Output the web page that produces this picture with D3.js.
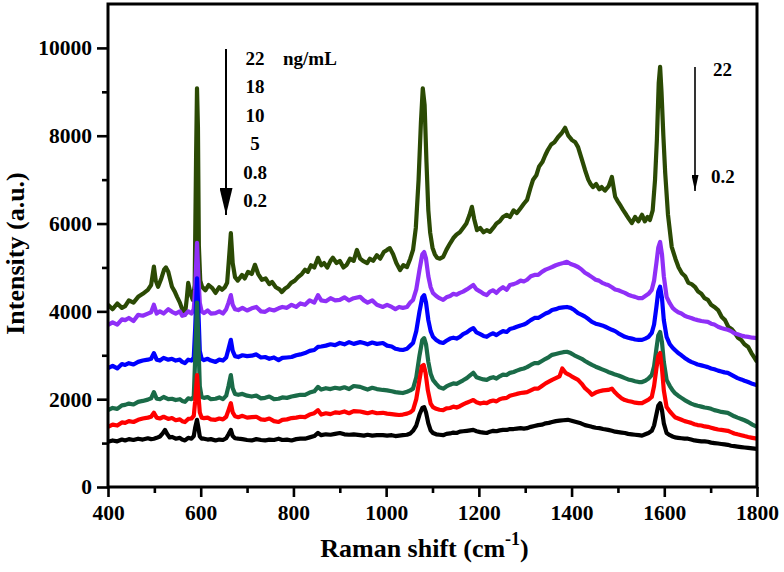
<!DOCTYPE html>
<html><head><meta charset="utf-8">
<script src="https://cdn.jsdelivr.net/npm/d3@7"></script>
<style>
html,body{margin:0;padding:0;background:#fff;}
svg text{font-family:"Liberation Serif","Times New Roman",serif;font-weight:bold;fill:#000;}
</style></head>
<body><svg id="c" width="784" height="572"></svg>
<script>
// ---- data ----
const concentrations = ["22","18","10","5","0.8","0.2"]; // ng/mL
const seriesColors = ["#2b4a04","#8f2ff7","#0000ff","#1a6b48","#ff0000","#000000"];
const xTicksMajor = [400,600,800,1000,1200,1400,1600,1800];
const xTicksMinor = [500,700,900,1100,1300,1500,1700];
const yTicksMajor = [0,2000,4000,6000,8000,10000];
const yTicksMinor = [1000,3000,5000,7000,9000];

const s22 = [[400,4150],[410,4050],[420,4180],[430,4080],[437,4120],[445,4250],[455,4200],[465,4330],[475,4400],[486,4490],[493,4600],[499,5020],[503,4700],[508,4560],[515,4750],[521,4950],[525,5000],[530,4900],[538,4560],[544,4450],[549,4330],[555,4200],[560,4050],[566,3920],[570,4300],[573,4650],[578,4400],[583,4260],[587,4600],[590,7500],[592,9080],[594,8200],[596,5500],[599,4700],[603,4560],[610,4480],[617,4600],[625,4530],[632,4420],[640,4550],[646,4490],[652,4550],[657,4650],[661,5200],[665,5780],[669,5100],[674,4780],[680,4700],[689,4830],[695,4750],[702,4900],[710,4850],[717,5060],[724,4850],[732,4720],[740,4750],[748,4620],[754,4670],[762,4550],[770,4500],[775,4440],[782,4520],[788,4560],[795,4650],[803,4700],[810,4780],[818,4850],[825,4950],[831,4900],[838,5050],[845,5000],[853,5220],[860,5050],[866,5100],[873,5000],[880,5150],[885,5220],[893,5100],[900,5150],[908,5000],[915,5060],[922,5200],[930,5150],[937,5400],[944,5200],[950,5150],[959,5100],[965,5200],[972,5150],[980,5280],[987,5200],[995,5350],[1002,5400],[1008,5440],[1015,5300],[1022,5100],[1030,4940],[1037,5050],[1045,5010],[1052,5200],[1058,5400],[1064,5900],[1070,7000],[1075,8300],[1079,9080],[1083,8700],[1087,7400],[1091,6300],[1095,5790],[1100,5450],[1105,5300],[1110,5220],[1116,5200],[1123,5240],[1130,5400],[1138,5550],[1145,5670],[1152,5750],[1159,5800],[1166,5900],[1173,6000],[1180,6200],[1185,6380],[1190,6100],[1196,5850],[1203,5900],[1210,5800],[1217,5850],[1224,5810],[1231,5900],[1238,6000],[1245,6050],[1252,6150],[1260,6200],[1267,6150],[1275,6300],[1282,6240],[1290,6350],[1297,6450],[1304,6540],[1311,6800],[1317,7000],[1324,7100],[1330,7300],[1337,7400],[1343,7550],[1349,7680],[1356,7800],[1363,7850],[1371,7970],[1378,8050],[1386,8180],[1393,8000],[1401,7900],[1408,7850],[1414,7740],[1421,7500],[1429,7220],[1436,7000],[1441,6900],[1446,6830],[1453,6900],[1460,6780],[1465,6830],[1472,6750],[1480,6850],[1487,7060],[1491,6800],[1494,6610],[1500,6500],[1506,6400],[1511,6310],[1518,6200],[1524,6100],[1530,6010],[1537,6150],[1544,6050],[1552,6200],[1558,6050],[1564,6150],[1569,6080],[1575,6300],[1580,6990],[1584,7900],[1588,9200],[1591,9570],[1594,9000],[1598,8000],[1602,7150],[1608,6200],[1616,5470],[1624,5200],[1631,5000],[1638,4870],[1645,4800],[1652,4650],[1659,4620],[1666,4560],[1673,4450],[1680,4400],[1687,4300],[1694,4260],[1701,4150],[1708,4100],[1716,4030],[1724,3870],[1731,3800],[1738,3650],[1745,3600],[1752,3510],[1759,3400],[1766,3350],[1773,3250],[1781,3190],[1788,3050],[1794,2950],[1800,2850]];

const s18 = [[400,3690],[410,3750],[420,3700],[430,3820],[437,3800],[445,3850],[455,3780],[465,3920],[475,3900],[486,3950],[493,3980],[499,4150],[505,3950],[512,4000],[520,3950],[530,4050],[538,3990],[546,3950],[555,4000],[560,3900],[566,3920],[573,4000],[580,3950],[585,4050],[588,4500],[592,5560],[595,4800],[598,4200],[602,4000],[607,3960],[615,4020],[622,3950],[632,3960],[640,4000],[648,3950],[655,4050],[660,4200],[665,4370],[669,4150],[674,4050],[681,4030],[690,4080],[700,4020],[710,4070],[720,4100],[730,4000],[739,3990],[748,4050],[758,4020],[768,4070],[776,4100],[786,4080],[796,4150],[806,4100],[815,4180],[825,4150],[835,4250],[845,4200],[853,4370],[860,4250],[870,4230],[880,4300],[890,4250],[900,4260],[910,4320],[920,4250],[930,4300],[944,4330],[952,4250],[960,4200],[970,4250],[980,4150],[993,4100],[1002,4150],[1012,4100],[1020,4050],[1028,4100],[1036,4080],[1045,4100],[1052,4200],[1058,4260],[1065,4500],[1072,4950],[1078,5300],[1082,5350],[1086,5200],[1091,4800],[1096,4550],[1101,4420],[1108,4350],[1115,4300],[1123,4260],[1130,4320],[1138,4350],[1145,4400],[1152,4380],[1159,4420],[1166,4450],[1174,4500],[1181,4550],[1188,4600],[1195,4500],[1203,4450],[1210,4400],[1217,4370],[1224,4450],[1231,4480],[1238,4420],[1245,4500],[1252,4550],[1260,4490],[1267,4600],[1275,4620],[1282,4650],[1290,4700],[1297,4680],[1304,4720],[1312,4800],[1320,4830],[1328,4830],[1336,4900],[1344,4950],[1351,4980],[1358,5010],[1366,5050],[1374,5080],[1382,5100],[1390,5130],[1398,5080],[1406,5050],[1414,5010],[1422,4950],[1429,4880],[1437,4830],[1444,4780],[1452,4720],[1459,4700],[1466,4650],[1473,4620],[1479,4600],[1487,4550],[1494,4500],[1501,4480],[1508,4450],[1515,4420],[1522,4380],[1530,4350],[1537,4330],[1545,4300],[1552,4300],[1559,4350],[1566,4400],[1573,4490],[1578,4700],[1583,5100],[1587,5450],[1591,5580],[1595,5300],[1599,4800],[1605,4330],[1612,4180],[1618,4080],[1623,4030],[1630,3980],[1637,3950],[1644,3900],[1651,3870],[1658,3850],[1665,3820],[1672,3800],[1680,3780],[1687,3770],[1694,3760],[1701,3720],[1708,3700],[1716,3650],[1723,3620],[1730,3600],[1737,3580],[1744,3550],[1751,3500],[1758,3480],[1766,3450],[1773,3430],[1781,3420],[1790,3400],[1800,3390]];

const s10 = [[400,2710],[410,2760],[420,2700],[430,2800],[437,2780],[445,2820],[455,2790],[465,2850],[475,2880],[486,2900],[493,2920],[499,3050],[505,2900],[512,2880],[520,2940],[530,2900],[538,2920],[546,2880],[555,2900],[560,2850],[566,2820],[573,2900],[580,2880],[585,2950],[588,3600],[592,4750],[595,4000],[598,3100],[602,2920],[607,2890],[615,2920],[622,2880],[632,2850],[640,2900],[648,2880],[655,2950],[660,3150],[665,3350],[669,3100],[674,2980],[681,2960],[690,3000],[700,2980],[710,2990],[720,3020],[730,2950],[739,2960],[748,2920],[758,2950],[768,2890],[776,2940],[786,2950],[796,2960],[806,3000],[815,3020],[825,3050],[835,3100],[845,3120],[853,3190],[860,3200],[870,3220],[880,3250],[890,3230],[900,3280],[910,3250],[920,3300],[930,3260],[944,3300],[952,3280],[960,3250],[970,3290],[980,3260],[993,3280],[1002,3220],[1012,3200],[1020,3150],[1028,3130],[1036,3120],[1045,3150],[1052,3220],[1058,3280],[1065,3550],[1072,4000],[1078,4320],[1082,4370],[1086,4200],[1091,3800],[1096,3550],[1101,3420],[1108,3350],[1115,3300],[1123,3280],[1130,3330],[1138,3380],[1145,3400],[1152,3380],[1159,3420],[1166,3480],[1174,3520],[1181,3580],[1188,3620],[1195,3520],[1203,3480],[1210,3440],[1217,3420],[1224,3470],[1231,3500],[1238,3460],[1245,3510],[1252,3550],[1260,3530],[1267,3600],[1275,3620],[1282,3650],[1290,3680],[1297,3700],[1304,3740],[1312,3800],[1320,3850],[1328,3850],[1336,3900],[1344,3950],[1351,3980],[1358,4030],[1366,4050],[1374,4080],[1382,4090],[1390,4100],[1398,4080],[1406,4030],[1414,3960],[1422,3920],[1429,3880],[1437,3820],[1444,3760],[1452,3720],[1459,3700],[1466,3680],[1473,3650],[1479,3620],[1487,3580],[1494,3550],[1501,3500],[1508,3460],[1515,3420],[1522,3400],[1530,3380],[1537,3360],[1545,3350],[1552,3350],[1559,3380],[1566,3420],[1573,3510],[1578,3700],[1583,4100],[1587,4450],[1591,4560],[1595,4300],[1599,3800],[1605,3420],[1612,3250],[1618,3170],[1623,3120],[1630,3050],[1637,3000],[1644,2940],[1651,2890],[1658,2850],[1665,2820],[1672,2790],[1680,2770],[1687,2750],[1694,2730],[1701,2700],[1708,2680],[1716,2650],[1723,2630],[1730,2610],[1737,2600],[1744,2560],[1751,2520],[1758,2480],[1766,2450],[1773,2420],[1781,2390],[1790,2350],[1800,2320]];

const s5 = [[400,1750],[410,1800],[420,1780],[430,1860],[437,1870],[445,1900],[455,1880],[465,1940],[475,1960],[486,1990],[493,2020],[499,2160],[505,2010],[512,2000],[520,2050],[530,2000],[538,2010],[546,1980],[555,2000],[560,1960],[566,1940],[573,2020],[580,2000],[585,2060],[588,2900],[592,4200],[595,3300],[598,2300],[602,2050],[607,2030],[615,2050],[622,2000],[632,2010],[640,2040],[648,2000],[655,2080],[660,2300],[665,2550],[669,2250],[674,2120],[681,2100],[690,2120],[700,2080],[710,2060],[720,2080],[730,2020],[739,2030],[748,2060],[758,2000],[768,2010],[776,2040],[786,2030],[796,2060],[806,2080],[815,2100],[825,2100],[835,2150],[845,2180],[853,2280],[860,2220],[870,2250],[880,2230],[890,2260],[900,2240],[910,2270],[920,2230],[930,2300],[944,2280],[952,2250],[960,2220],[970,2260],[980,2230],[993,2210],[1002,2200],[1012,2180],[1020,2160],[1028,2150],[1036,2140],[1045,2170],[1052,2200],[1058,2240],[1065,2500],[1072,3000],[1078,3350],[1082,3390],[1086,3250],[1091,2850],[1096,2580],[1101,2440],[1108,2350],[1115,2270],[1123,2240],[1130,2290],[1138,2330],[1145,2360],[1152,2350],[1159,2390],[1166,2430],[1174,2480],[1181,2540],[1188,2600],[1195,2500],[1203,2470],[1210,2450],[1217,2440],[1224,2480],[1231,2500],[1238,2470],[1245,2520],[1252,2560],[1260,2550],[1267,2600],[1275,2620],[1282,2650],[1290,2680],[1297,2700],[1304,2730],[1312,2780],[1320,2820],[1328,2820],[1336,2870],[1344,2920],[1351,2960],[1358,3010],[1366,3030],[1374,3050],[1382,3070],[1390,3080],[1398,3050],[1406,3000],[1414,2960],[1422,2920],[1429,2870],[1437,2820],[1444,2780],[1452,2740],[1459,2710],[1466,2680],[1473,2650],[1479,2620],[1487,2590],[1494,2560],[1501,2540],[1508,2510],[1515,2480],[1522,2450],[1530,2430],[1537,2410],[1545,2390],[1552,2390],[1559,2420],[1566,2470],[1573,2550],[1578,2750],[1583,3150],[1587,3450],[1591,3530],[1595,3300],[1599,2850],[1605,2440],[1612,2300],[1618,2200],[1623,2140],[1630,2080],[1637,2030],[1644,1980],[1651,1940],[1658,1900],[1665,1870],[1672,1850],[1680,1830],[1687,1810],[1694,1800],[1701,1780],[1708,1750],[1716,1730],[1723,1710],[1730,1700],[1737,1690],[1744,1650],[1751,1610],[1758,1580],[1766,1550],[1773,1520],[1781,1480],[1790,1420],[1800,1370]];

const s08 = [[400,1370],[410,1420],[420,1400],[430,1470],[437,1460],[445,1500],[455,1480],[465,1530],[475,1560],[486,1580],[493,1600],[499,1690],[505,1580],[512,1560],[520,1600],[530,1550],[538,1570],[546,1520],[555,1540],[560,1500],[566,1480],[573,1550],[580,1560],[585,1620],[588,1950],[592,2550],[595,2100],[598,1700],[602,1580],[607,1570],[615,1580],[622,1540],[632,1530],[640,1560],[648,1540],[655,1600],[660,1750],[665,1910],[669,1700],[674,1610],[681,1590],[690,1620],[700,1580],[710,1590],[720,1600],[730,1540],[739,1530],[748,1560],[758,1500],[768,1480],[776,1530],[786,1540],[796,1570],[806,1580],[815,1600],[825,1590],[835,1650],[845,1680],[853,1750],[860,1650],[870,1680],[880,1660],[890,1700],[900,1690],[910,1720],[920,1680],[930,1730],[944,1720],[952,1700],[960,1680],[970,1710],[980,1680],[993,1690],[1002,1670],[1012,1660],[1020,1650],[1028,1640],[1036,1650],[1045,1670],[1052,1700],[1058,1750],[1065,2000],[1072,2450],[1077,2750],[1081,2780],[1085,2600],[1090,2200],[1096,1900],[1101,1820],[1108,1780],[1115,1760],[1123,1750],[1130,1790],[1138,1800],[1145,1830],[1152,1810],[1159,1840],[1166,1880],[1174,1920],[1181,1950],[1188,1980],[1195,1930],[1203,1900],[1210,1920],[1217,1910],[1224,1950],[1231,1970],[1238,1950],[1245,2000],[1252,2020],[1260,2030],[1267,2080],[1275,2100],[1282,2120],[1290,2140],[1297,2150],[1304,2160],[1312,2200],[1320,2240],[1328,2240],[1336,2300],[1344,2360],[1351,2400],[1358,2440],[1366,2480],[1374,2520],[1380,2700],[1387,2600],[1394,2560],[1400,2520],[1407,2480],[1414,2440],[1422,2350],[1429,2250],[1437,2180],[1444,2100],[1452,2150],[1460,2180],[1468,2200],[1479,2210],[1487,2240],[1494,2150],[1501,2080],[1508,2020],[1515,1980],[1522,1960],[1530,1940],[1537,1920],[1545,1910],[1552,1910],[1559,1950],[1566,1990],[1573,2050],[1578,2300],[1583,2700],[1587,2980],[1591,3050],[1595,2700],[1599,2200],[1605,1820],[1612,1720],[1618,1650],[1623,1590],[1630,1560],[1637,1530],[1644,1500],[1651,1480],[1658,1460],[1665,1430],[1672,1410],[1680,1400],[1687,1380],[1694,1370],[1701,1350],[1708,1330],[1716,1310],[1723,1300],[1730,1290],[1737,1280],[1744,1250],[1751,1220],[1758,1200],[1766,1180],[1773,1160],[1781,1140],[1790,1120],[1800,1100]];

const s02 = [[400,1030],[410,1060],[420,1040],[430,1080],[437,1060],[445,1090],[455,1070],[465,1100],[475,1080],[486,1110],[493,1090],[499,1100],[505,1120],[512,1150],[518,1220],[523,1300],[528,1200],[533,1130],[538,1140],[546,1100],[555,1120],[560,1080],[566,1060],[573,1120],[580,1100],[585,1160],[588,1350],[592,1530],[595,1350],[598,1150],[602,1100],[607,1100],[615,1080],[622,1090],[632,1060],[640,1080],[648,1070],[655,1110],[660,1200],[665,1300],[669,1160],[674,1110],[681,1100],[690,1090],[700,1070],[710,1060],[720,1090],[730,1070],[739,1060],[748,1080],[758,1070],[768,1100],[776,1070],[786,1080],[796,1060],[806,1090],[815,1100],[825,1100],[835,1130],[845,1160],[853,1230],[860,1180],[870,1200],[880,1190],[890,1210],[900,1230],[910,1200],[920,1190],[930,1200],[944,1180],[952,1170],[960,1190],[970,1170],[980,1180],[993,1180],[1002,1170],[1012,1180],[1020,1160],[1028,1170],[1036,1180],[1045,1190],[1052,1220],[1058,1280],[1065,1400],[1072,1650],[1078,1800],[1082,1820],[1086,1700],[1091,1450],[1096,1290],[1101,1230],[1108,1200],[1115,1190],[1123,1180],[1130,1210],[1138,1220],[1145,1240],[1152,1230],[1159,1260],[1166,1270],[1174,1280],[1181,1290],[1188,1300],[1195,1270],[1203,1250],[1210,1240],[1217,1230],[1224,1260],[1231,1280],[1238,1270],[1245,1290],[1252,1300],[1260,1300],[1267,1320],[1275,1320],[1282,1330],[1290,1340],[1297,1330],[1304,1340],[1312,1370],[1320,1390],[1328,1410],[1336,1420],[1344,1450],[1351,1460],[1358,1480],[1366,1500],[1374,1510],[1382,1520],[1392,1530],[1400,1510],[1410,1480],[1420,1450],[1429,1410],[1437,1390],[1444,1370],[1452,1350],[1460,1340],[1468,1320],[1479,1300],[1487,1280],[1494,1260],[1501,1250],[1508,1240],[1515,1230],[1522,1210],[1530,1200],[1537,1190],[1545,1180],[1552,1170],[1559,1200],[1566,1230],[1573,1280],[1578,1400],[1583,1650],[1587,1850],[1591,1910],[1595,1750],[1599,1450],[1605,1230],[1612,1180],[1618,1150],[1623,1130],[1630,1120],[1637,1110],[1644,1100],[1651,1100],[1658,1080],[1665,1060],[1672,1050],[1680,1040],[1687,1040],[1694,1030],[1701,1010],[1708,1000],[1716,990],[1723,980],[1730,970],[1737,960],[1744,940],[1751,930],[1758,920],[1766,910],[1773,900],[1781,890],[1790,880],[1800,870]];

const seriesData = [s22, s18, s10, s5, s08, s02];

// ---- chart ----
const svg = d3.select("#c");
const L = 108, R = 757, T = 4, B = 487;
const x = d3.scaleLinear().domain([400,1800]).range([L,R]);
const y = d3.scaleLinear().domain([0,11000]).range([B,T]);

const defs = svg.append("defs");
defs.append("clipPath").attr("id","clip")
  .append("rect").attr("x",L).attr("y",T).attr("width",R-L).attr("height",B-T);
defs.html(defs.html() + `
<marker id="ahBig" viewBox="0 0 10 10" refX="10" refY="5" markerWidth="27" markerHeight="13" markerUnits="userSpaceOnUse" orient="auto" preserveAspectRatio="none"><path d="M0,0 L10,5 L0,10 Z" fill="#000"/></marker>
<marker id="ahSmall" viewBox="0 0 10 10" refX="10" refY="5" markerWidth="16" markerHeight="7" markerUnits="userSpaceOnUse" orient="auto" preserveAspectRatio="none"><path d="M0,0 L10,5 L0,10 Z" fill="#000"/></marker>`);

const line = d3.line().x(d=>x(d[0])).y(d=>y(d[1]));
const gl = svg.append("g").attr("clip-path","url(#clip)");
seriesData.forEach((s,i)=>{
  gl.append("path").datum(s).attr("d",line)
    .attr("fill","none").attr("stroke",seriesColors[i])
    .attr("stroke-width",4.2).attr("stroke-linejoin","round");
});

// axes
function styleAxis(g){
  g.select(".domain").remove();
  g.selectAll("line").attr("stroke","#000").attr("stroke-width",2.6);
  g.selectAll("text").style("font-size","21.5px").style("font-family","'Liberation Serif',serif").style("font-weight","bold");
}
const xAxis = svg.append("g").attr("transform",`translate(0,${B})`)
  .call(d3.axisBottom(x).tickValues(xTicksMajor).tickSize(10).tickPadding(8).tickFormat(d3.format("d")));
styleAxis(xAxis);
const xMinor = svg.append("g").attr("transform",`translate(0,${B})`)
  .call(d3.axisBottom(x).tickValues(xTicksMinor).tickSize(6).tickFormat(""));
styleAxis(xMinor);
const yAxis = svg.append("g").attr("transform",`translate(${L},0)`)
  .call(d3.axisLeft(y).tickValues(yTicksMajor).tickSize(11).tickPadding(5).tickFormat(d3.format("d")));
styleAxis(yAxis);
const yMinor = svg.append("g").attr("transform",`translate(${L},0)`)
  .call(d3.axisLeft(y).tickValues(yTicksMinor).tickSize(6).tickFormat(""));
styleAxis(yMinor);

// frame
svg.append("rect").attr("x",L).attr("y",T).attr("width",R-L).attr("height",B-T)
  .attr("fill","none").attr("stroke","#000").attr("stroke-width",3);

// axis titles
const xt = svg.append("text").attr("x",(L+R)/2-8).attr("y",557).attr("text-anchor","middle").style("font-size","26px");
xt.append("tspan").text("Raman shift (cm");
xt.append("tspan").attr("dy",-12).style("font-size","18px").text("-1");
xt.append("tspan").attr("dy",12).text(")");
svg.append("text").attr("transform",`translate(24,${(T+B)/2+8}) rotate(-90)`)
  .attr("text-anchor","middle").style("font-size","26px").text("Intensity (a.u.)");

// annotations
svg.append("line").attr("x1",226).attr("y1",49).attr("x2",226).attr("y2",215)
  .attr("stroke","#000").attr("stroke-width",2).attr("marker-end","url(#ahBig)");
const labY = [65,93,122,150,179,207];
concentrations.forEach((c,i)=>{
  svg.append("text").attr("x",255).attr("y",labY[i]).attr("text-anchor","middle")
    .style("font-size","19px").text(c);
});
svg.append("text").attr("x",283).attr("y",65).style("font-size","19px").text("ng/mL");

svg.append("line").attr("x1",695).attr("y1",67).attr("x2",695).attr("y2",191)
  .attr("stroke","#000").attr("stroke-width",1.6).attr("marker-end","url(#ahSmall)");
svg.append("text").attr("x",713).attr("y",76).style("font-size","19px").text(concentrations[0]);
svg.append("text").attr("x",711).attr("y",183).style("font-size","19px").text(concentrations[concentrations.length-1]);
</script></body></html>
